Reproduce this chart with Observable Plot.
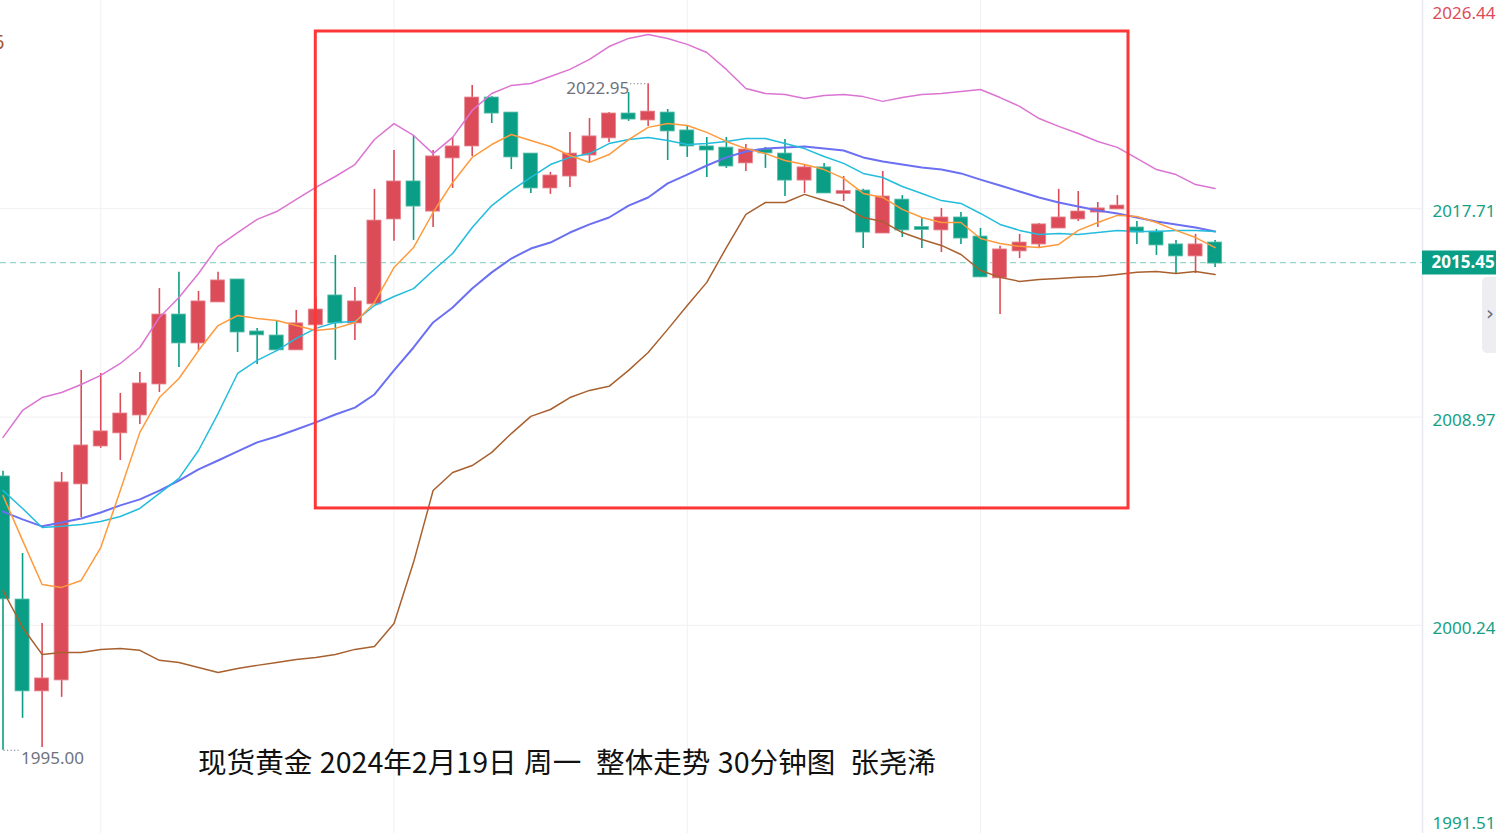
<!DOCTYPE html>
<html><head><meta charset="utf-8">
<script src="https://cdn.jsdelivr.net/npm/d3@7"></script>
<script src="https://cdn.jsdelivr.net/npm/@observablehq/plot@0.6"></script>
<style>
html,body{margin:0;padding:0;background:#fff;}
#wrap{position:relative;width:1496px;height:833px;overflow:hidden;}
#title{position:absolute;left:198px;top:742px;font-size:28.6px;font-family:"Noto Sans CJK SC";color:#111;white-space:pre;line-height:38px;word-spacing:1px;}
#cut{position:absolute;left:-7px;top:28px;font-size:20px;font-family:"Noto Sans";color:#a65a2c;}
#panel{position:absolute;left:1482px;top:277px;width:16px;height:76px;background:#eeeef2;border-radius:5px 0 0 5px;color:#6a6d78;font:20px "DejaVu Sans";line-height:72px;text-align:center;}
svg{position:absolute;left:0;top:0;}
</style></head><body><div id="wrap"></div>
<script>
// OHLC of 30-minute candles (index 0 = leftmost visible bar)
const open = [2006.44,2001.28,1997.51,1997.97,2006.19,2007.78,2008.33,2009.08,2010.38,2013.23,
2012.10,2013.82,2014.70,2012.52,2012.35,2011.81,2012.86,2014.03,2012.94,2013.74,
2017.30,2018.81,2017.63,2019.86,2020.36,2022.33,2021.70,2019.98,2018.60,2019.10,
2019.98,2020.70,2021.66,2021.45,2021.70,2020.95,2020.28,2020.23,2019.65,2020.15,
2019.98,2018.93,2019.40,2018.37,2018.43,2016.71,2018.05,2016.90,2016.84,2017.30,
2016.50,2014.83,2015.96,2016.25,2016.92,2017.30,2017.59,2017.72,2016.88,2016.71,
2016.17,2015.75,2016.25];
const high = [2006.70,2003.25,2000.32,2006.65,2010.93,2010.80,2009.96,2010.84,2014.36,2015.04,
2014.24,2015.04,2014.74,2012.69,2013.02,2013.44,2013.95,2015.75,2014.41,2018.52,
2020.15,2020.78,2020.15,2020.70,2022.88,2022.41,2021.70,2019.98,2019.23,2020.91,
2021.49,2021.74,2022.58,2022.95,2021.87,2021.16,2020.70,2020.70,2020.40,2020.28,
2020.61,2019.56,2019.61,2019.06,2018.52,2019.27,2018.26,2017.34,2017.72,2017.55,
2016.88,2016.13,2016.63,2017.09,2018.52,2018.43,2017.97,2018.26,2017.17,2016.84,
2016.38,2016.63,2016.38];
const low = [1995.00,1996.34,1995.12,1997.22,2004.76,2007.66,2007.15,2008.66,2010.00,2011.05,
2011.76,2013.82,2011.68,2011.18,2011.81,2011.81,2012.86,2011.35,2012.18,2013.74,
2016.34,2016.38,2016.92,2018.56,2019.90,2021.28,2019.35,2018.35,2018.31,2018.60,
2019.65,2020.49,2021.37,2021.16,2019.73,2019.86,2019.02,2019.40,2019.27,2019.40,
2018.22,2018.35,2018.35,2018.01,2016.04,2016.71,2016.50,2016.04,2015.87,2016.21,
2014.83,2013.27,2015.62,2016.04,2016.92,2017.17,2016.92,2017.72,2016.21,2015.75,
2014.99,2014.99,2015.24];
const close = [2001.37,1997.51,1997.97,2006.19,2007.74,2008.33,2009.08,2010.34,2013.23,2012.10,
2013.78,2014.66,2012.56,2012.44,2011.81,2012.86,2013.44,2012.94,2013.78,2017.17,
2018.81,2017.84,2019.86,2020.28,2022.33,2021.74,2019.90,2018.60,2019.06,2019.98,
2020.70,2021.66,2021.49,2021.74,2020.99,2020.36,2020.19,2019.52,2020.15,2020.07,
2018.93,2019.40,2018.39,2018.41,2016.75,2018.18,2016.84,2016.86,2017.30,2016.50,
2014.87,2015.96,2016.25,2017.01,2017.30,2017.55,2017.68,2017.80,2016.75,2016.21,
2015.75,2016.17,2015.45];

// Bollinger bands
const bollUpper = [2008.12,2009.25,2009.79,2010.00,2010.34,2010.72,2011.22,2011.89,2013.15,2013.99,
2014.99,2016.13,2016.71,2017.26,2017.59,2018.10,2018.60,2019.06,2019.56,2020.61,
2021.28,2020.78,2020.02,2020.70,2021.83,2022.54,2022.88,2022.96,2023.25,2023.55,
2023.97,2024.51,2024.85,2025.01,2024.85,2024.60,2024.26,2023.55,2022.75,2022.54,
2022.50,2022.33,2022.46,2022.50,2022.41,2022.21,2022.37,2022.50,2022.54,2022.62,
2022.71,2022.37,2022.00,2021.49,2021.16,2020.86,2020.53,2020.28,2019.82,2019.35,
2019.14,2018.72,2018.56];
const bollMid = [2005.01,2004.68,2004.39,2004.55,2004.72,2004.97,2005.27,2005.52,2005.89,2006.31,
2006.78,2007.15,2007.53,2007.91,2008.16,2008.45,2008.75,2009.08,2009.37,2009.92,
2010.93,2011.89,2012.94,2013.57,2014.36,2015.04,2015.62,2016.04,2016.29,2016.71,
2017.05,2017.34,2017.84,2018.18,2018.77,2019.14,2019.52,2019.86,2020.11,2020.23,
2020.28,2020.32,2020.23,2020.15,2019.86,2019.69,2019.56,2019.44,2019.35,2019.19,
2018.93,2018.68,2018.43,2018.18,2017.97,2017.80,2017.63,2017.51,2017.34,2017.17,
2017.05,2016.92,2016.75];
const bollLower = [2001.70,2000.15,1999.02,1999.10,1999.10,1999.23,1999.27,1999.19,1998.77,1998.68,
1998.47,1998.26,1998.43,1998.56,1998.68,1998.81,1998.89,1999.02,1999.23,1999.35,
2000.32,2002.88,2005.89,2006.65,2006.94,2007.49,2008.28,2009.00,2009.29,2009.79,
2010.09,2010.26,2010.93,2011.68,2012.65,2013.65,2014.62,2016.08,2017.47,2017.97,
2017.97,2018.31,2018.05,2017.80,2017.34,2017.17,2016.71,2016.42,2016.17,2015.79,
2015.12,2014.83,2014.66,2014.74,2014.78,2014.83,2014.87,2014.95,2015.04,2015.08,
2014.99,2015.08,2014.95];

// moving averages
const maFast = [2005.68,2003.80,2001.95,2001.83,2002.12,2003.50,2005.89,2008.33,2009.79,2010.59,
2011.76,2012.81,2013.23,2013.11,2013.02,2012.81,2012.60,2012.69,2012.94,2013.78,
2015.24,2016.08,2017.55,2018.81,2019.86,2020.40,2020.82,2020.57,2020.32,2019.94,
2019.65,2019.98,2020.61,2021.12,2021.28,2021.20,2020.91,2020.53,2020.23,2020.02,
2019.73,2019.56,2019.35,2018.98,2018.35,2018.18,2017.68,2017.34,2017.13,2017.13,
2016.46,2016.25,2016.13,2016.08,2016.21,2016.80,2017.13,2017.43,2017.38,2017.13,
2016.80,2016.50,2016.08];
const maSlow = [2005.89,2005.14,2004.34,2004.39,2004.47,2004.59,2004.80,2005.14,2005.77,2006.40,
2007.57,2009.12,2010.80,2011.35,2011.76,2012.27,2012.69,2012.94,2012.98,2013.65,
2014.03,2014.36,2015.12,2015.83,2016.92,2017.84,2018.47,2019.02,2019.56,2019.86,
2020.02,2020.44,2020.61,2020.70,2020.57,2020.40,2020.44,2020.53,2020.65,2020.65,
2020.44,2020.23,2019.90,2019.61,2019.19,2019.02,2018.64,2018.35,2018.05,2017.93,
2017.51,2017.05,2016.80,2016.63,2016.67,2016.63,2016.71,2016.80,2016.75,2016.75,
2016.80,2016.80,2016.75];

// axis
const priceTicks = [2017.71, 2008.97, 2000.24];
const priceTop = 2026.44, priceBottom = 1991.51;
const lastPrice = 2015.45;
const timeGridBars = [5, 20, 35, 50];
// red annotation box (bar index / price)
const boxBars = [16, 57.57];
const boxPrices = [2005.14, 2025.14];

const RED = "#dc4c58", GREEN = "#0a9e86", TEAL_TXT = "#15a086";
const pxPerBar = 19.55, plotW = 1422, rightW = 74;
const xDomain = [-2.5 / pxPerBar, (plotW - 2.5) / pxPerBar];
const xOuter = xDomain[1] + rightW / pxPerBar;

const candles = open.map((o, i) => ({i, o, h: high[i], l: low[i], c: close[i], up: close[i] >= o}));
const hiIdx = d3.maxIndex(high), loIdx = d3.minIndex(low);
const idx = (d, i) => i;

const chart = Plot.plot({
  width: 1496, height: 833,
  marginLeft: 0, marginRight: rightW, marginTop: 0, marginBottom: 0,
  x: {domain: xDomain, axis: null},
  y: {domain: [priceBottom, priceTop], axis: null},
  style: {background: "transparent", fontFamily: "Noto Sans", overflow: "visible"},
  marks: [
    Plot.ruleY(priceTicks, {stroke: "#f0f0f4", strokeWidth: 1}),
    Plot.ruleX(timeGridBars, {stroke: "#f0f0f4", strokeWidth: 1}),
    Plot.ruleY([lastPrice], {stroke: "#93d5c6", strokeWidth: 1.3, strokeDasharray: "6,4"}),
    Plot.ruleX(candles, {x: "i", y1: "l", y2: "h", stroke: d => d.up ? RED : GREEN, strokeWidth: 1.6}),
    Plot.rect(candles, {x1: d => d.i - 0.36, x2: d => d.i + 0.36,
      y1: d => Math.min(d.o, d.c), y2: d => Math.max(d.o, d.c),
      fill: d => d.up ? RED : GREEN, stroke: d => d.up ? "#e58891" : "#5bbfaa", strokeWidth: 0.8,
      insetTop: -1, insetBottom: -1}),
    Plot.line(bollUpper, {x: idx, y: d => d, stroke: "#db74d2", strokeWidth: 1.5}),
    Plot.line(bollLower, {x: idx, y: d => d, stroke: "#a8602f", strokeWidth: 1.5}),
    Plot.line(bollMid, {x: idx, y: d => d, stroke: "#6b6ff2", strokeWidth: 2}),
    Plot.line(maSlow, {x: idx, y: d => d, stroke: "#22bcdc", strokeWidth: 1.5}),
    Plot.line(maFast, {x: idx, y: d => d, stroke: "#ff9a3c", strokeWidth: 1.5}),
    // high / low markers
    Plot.ruleY([high[hiIdx]], {x1: hiIdx - 0.9, x2: hiIdx - 0.05, stroke: "#787b86", strokeDasharray: "1.2,2.3", strokeWidth: 1.2}),
    Plot.text([high[hiIdx]], {x: hiIdx, y: d => d, text: d => d.toFixed(2), textAnchor: "end", dx: -19, dy: 5, fill: "#6f7280", fontSize: 17}),
    Plot.ruleY([low[loIdx]], {x1: loIdx + 0.05, x2: loIdx + 0.85, stroke: "#787b86", strokeDasharray: "1.2,2.3", strokeWidth: 1.2}),
    Plot.text([low[loIdx]], {x: loIdx, y: d => d, text: d => d.toFixed(2), textAnchor: "start", dx: 18, dy: 8, fill: "#6f7280", fontSize: 17}),
    // annotation box
    Plot.rect([0], {x1: boxBars[0], x2: boxBars[1], y1: boxPrices[0], y2: boxPrices[1], fill: "none", stroke: "#ff3636", strokeWidth: 3}),
    // right price axis
    Plot.ruleX([xDomain[1]], {stroke: "#e8e8ee", strokeWidth: 1.5}),
    Plot.text(priceTicks, {y: d => d, text: d => d.toFixed(2), frameAnchor: "right", dx: 10, dy: 3, textAnchor: "start", fill: TEAL_TXT, fontSize: 17}),
    Plot.text([priceTop], {y: d => d, text: d => d.toFixed(2), frameAnchor: "right", dx: 10, dy: 13, textAnchor: "start", fill: RED, fontSize: 17}),
    Plot.text([priceBottom], {y: d => d, text: d => d.toFixed(2), frameAnchor: "right", dx: 10, dy: -10, textAnchor: "start", fill: TEAL_TXT, fontSize: 17}),
    Plot.ruleY([lastPrice], {x1: xDomain[1], x2: xOuter, stroke: "#089f86", strokeWidth: 24}),
    Plot.text([lastPrice], {y: d => d, text: d => d.toFixed(2), frameAnchor: "right", dx: 9, textAnchor: "start", fill: "#fff", fontSize: 17, fontWeight: "bold"})
  ]
});
const wrap = document.getElementById("wrap");
wrap.appendChild(chart);
const t = document.createElement("div"); t.id = "title";
t.textContent = "现货黄金 2024年2月19日 周一  整体走势 30分钟图  张尧浠";
wrap.appendChild(t);
const c = document.createElement("div"); c.id = "cut"; c.textContent = "6"; wrap.appendChild(c);
const p = document.createElement("div"); p.id = "panel"; p.textContent = "›"; wrap.appendChild(p);
</script>
</body></html>
